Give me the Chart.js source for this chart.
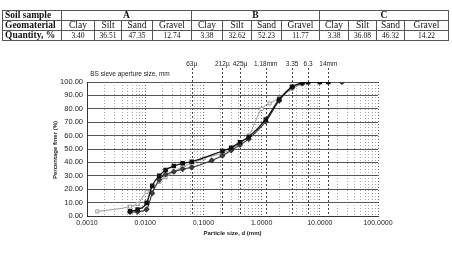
<!DOCTYPE html>
<html lang="en">
<head>
    <meta charset="UTF-8">
    <title>Particle size distribution</title>
    <script src="https://cdn.jsdelivr.net/npm/chart.js"></script>
    <style>
        html, body { margin: 0; padding: 0; background: #fff; }
        body { width: 452px; height: 254px; position: relative; overflow: hidden; }
        #wrap { position: absolute; left: 0; top: 0; width: 452px; height: 254px; }
        table {
            position: absolute; left: 2px; top: 10px;
            border-collapse: collapse; table-layout: fixed;
            font-family: "Liberation Serif", "DejaVu Serif", serif;
            color: #111;
        }
        td { border: 1px solid #555; padding: 0; text-align: center; height: 9px; line-height: 9px; font-size: 9.5px; }
        td.head { font-weight: bold; text-align: left; padding-left: 2px; }
        tr.vals td { font-size: 7.5px; }
        tr.vals td.head { font-size: 9.5px; }
    </style>
</head>
<body>
<div id="wrap"><canvas id="chart" width="452" height="254"></canvas></div>
<table id="tbl"></table>
<script>
    // table data
    const samples = ["A", "B", "C"];
    const geomaterials = ["Clay", "Silt", "Sand", "Gravel"];
    const quantities = [
        [3.40, 36.51, 47.35, 12.74],
        [3.38, 32.62, 52.23, 11.77],
        [3.38, 36.08, 46.32, 14.22]
    ];
    const colWidths = [59, 33, 27, 31, 39, 31, 29, 30, 38, 29, 28, 28, 44];

    // grading curves (particle size mm, % finer)
    const sizesA = [0.0055, 0.0074, 0.0106, 0.0132, 0.0174, 0.0224, 0.031, 0.044, 0.063, 0.212, 0.3, 0.425, 0.6, 1.18, 2.0, 3.35, 5.0, 6.3, 10, 14];
    const finerA = [3.5, 4.8, 9.8, 22.5, 30, 34.3, 37.3, 39.3, 40.5, 48.5, 51, 55, 59, 72, 87, 96.5, 99.5, 100, 100, 100];
    const sizesB = [0.0055, 0.0074, 0.0106, 0.0132, 0.0174, 0.0224, 0.031, 0.044, 0.063, 0.139, 0.212, 0.3, 0.425, 0.6, 1.18, 2.0, 3.35, 5.0, 6.3, 10, 14, 24];
    const finerB = [3, 3.2, 5, 17, 27, 31, 33, 35, 36.3, 41.5, 45, 49, 53, 57.5, 70.5, 86, 96, 99, 100, 100, 100, 100];
    const sizesC = [0.0015, 0.0055, 0.0074, 0.0106, 0.0132, 0.0174, 0.0224, 0.031, 0.044, 0.063, 0.101, 0.212, 0.3, 0.425, 0.6, 1.0, 1.37, 2.0, 3.35, 5.0, 6.3, 10, 14, 24];
    const finerC = [3.4, 7, 9, 18, 20, 25.5, 29, 33, 37, 39, 43, 47, 50, 55, 60, 80, 84, 88, 95, 98.5, 99.5, 100, 100, 100];

    // BS sieve apertures shown above the plot
    const sieveSizes = [0.063, 0.212, 0.425, 1.18, 3.35, 6.3, 14];
    const sieveLabels = ["63\u00b5", "212\u00b5", "425\u00b5", "1.18mm", "3.35", "6.3", "14mm"];

    const decadeTicks = [0.001, 0.01, 0.1, 1, 10, 100];
    const decadeLabels = ["0.0010", "0.0100", "0.1000", "1.0000", "10.0000", "100.0000"];

    // build table
    const tbl = document.getElementById("tbl");
    const cg = document.createElement("colgroup");
    colWidths.forEach(w => {
        const c = document.createElement("col");
        c.style.width = w + "px";
        cg.appendChild(c);
    });
    tbl.appendChild(cg);
    let html = '<tr><td class="head">Soil sample</td>';
    samples.forEach(s => { html += '<td colspan="4" style="font-weight:bold">' + s + '</td>'; });
    html += '</tr><tr><td class="head">Geomaterial</td>';
    samples.forEach(() => geomaterials.forEach(g => { html += '<td>' + g + '</td>'; }));
    html += '</tr><tr class="vals"><td class="head">Quantity, %</td>';
    quantities.forEach(row => row.forEach(v => { html += '<td>' + v.toFixed(2) + '</td>'; }));
    html += '</tr>';
    tbl.insertAdjacentHTML("beforeend", html);

    const pts = (xs, ys) => xs.map((x, i) => ({ x: x, y: ys[i] }));
    const FONT = '"Liberation Sans", Arial, sans-serif';

    // draws the sieve lines, their labels and the axis titles
    const annotations = {
        id: "annotations",
        beforeDatasetsDraw(chart) {
            const { ctx, chartArea, scales } = chart;
            ctx.save();
            ctx.strokeStyle = "#444";
            ctx.lineWidth = 1;
            ctx.setLineDash([2, 2]);
            sieveSizes.forEach(s => {
                const x = Math.round(scales.x.getPixelForValue(s)) + 0.5;
                ctx.beginPath();
                ctx.moveTo(x, 68);
                ctx.lineTo(x, chartArea.bottom);
                ctx.stroke();
            });
            ctx.restore();
        },
        afterDraw(chart) {
            const { ctx, chartArea, scales } = chart;
            ctx.save();
            ctx.fillStyle = "#222";
            ctx.textAlign = "center";
            ctx.textBaseline = "middle";
            ctx.font = "6.5px " + FONT;
            sieveSizes.forEach((s, i) => {
                ctx.fillText(sieveLabels[i], scales.x.getPixelForValue(s), 64);
            });
            ctx.fillText("BS sieve aperture size, mm", 130, 74);
            ctx.font = "bold 6px " + FONT;
            ctx.fillText("Particle size, d (mm)", (chartArea.left + chartArea.right) / 2, 233);
            ctx.translate(55, 150);
            ctx.rotate(-Math.PI / 2);
            ctx.fillText("Percentage finer (%)", 0, 0);
            ctx.restore();
        }
    };

    const ctx = document.getElementById("chart").getContext("2d");
    new Chart(ctx, {
        type: "line",
        data: {
            datasets: [
                {
                    label: "A",
                    data: pts(sizesA, finerA),
                    borderColor: "#111",
                    backgroundColor: "#111",
                    borderWidth: 1.3,
                    pointStyle: "rect",
                    pointRadius: 2.3
                },
                {
                    label: "B",
                    data: pts(sizesB, finerB),
                    borderColor: "#333",
                    backgroundColor: "#444",
                    borderWidth: 1.1,
                    pointStyle: "rectRot",
                    pointRadius: 2.3
                },
                {
                    label: "C",
                    data: pts(sizesC, finerC),
                    borderColor: "#999",
                    backgroundColor: "#fff",
                    borderWidth: 1,
                    pointStyle: "rect",
                    pointRadius: 2.2
                }
            ]
        },
        options: {
            responsive: false,
            animation: false,
            cubicInterpolationMode: "monotone",
            layout: { padding: { left: 0, top: 82, right: 74, bottom: 0 } },
            plugins: { legend: { display: false }, tooltip: { enabled: false } },
            scales: {
                x: {
                    type: "logarithmic",
                    min: 0.001,
                    max: 100,
                    afterFit: s => { s.height = 38; },
                    afterBuildTicks: s => {
                        const t = [];
                        for (let e = -3; e <= 2; e++) {
                            for (let m = 1; m <= 9; m++) {
                                const v = m * Math.pow(10, e);
                                if (v <= 100.0001) t.push({ value: v });
                            }
                        }
                        s.ticks = t;
                    },
                    ticks: {
                        autoSkip: false,
                        maxRotation: 0,
                        padding: 3,
                        color: "#222",
                        font: { family: FONT, size: 7 },
                        callback: v => {
                            const i = decadeTicks.findIndex(d => Math.abs(d - v) / d < 1e-6);
                            return i >= 0 ? decadeLabels[i] : "";
                        }
                    },
                    grid: {
                        drawTicks: false,
                        color: c => {
                            const v = c.tick ? c.tick.value : 0;
                            const dec = decadeTicks.some(d => Math.abs(d - v) / d < 1e-6);
                            return dec ? "#666" : "#aaa";
                        },
                        lineWidth: 1
                    },
                    border: { display: true, color: "#333", dash: [1, 2] }
                },
                y: {
                    min: 0,
                    max: 100,
                    afterFit: s => { s.width = 87; },
                    ticks: {
                        stepSize: 10,
                        padding: 4,
                        color: "#222",
                        font: { family: FONT, size: 7.5 },
                        callback: v => v.toFixed(2)
                    },
                    grid: { drawTicks: false, color: "#555", lineWidth: 1 },
                    border: { display: true, color: "#333" }
                }
            }
        },
        plugins: [annotations]
    });
</script>
</body>
</html>
